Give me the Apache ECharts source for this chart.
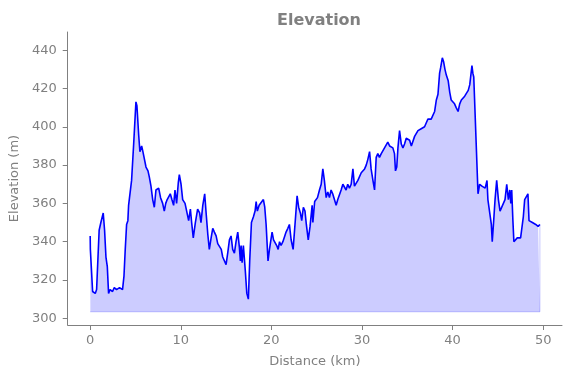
<!DOCTYPE html>
<html>
<head>
<meta charset="utf-8">
<script src="https://cdn.jsdelivr.net/npm/echarts@6/dist/echarts.min.js"></script>
<style>html,body{margin:0;padding:0;background:#fff;}#c{width:571px;height:378px;}</style>
</head>
<body>
<div id="c"></div>
<script>
const distance = [0.00,0.02,0.27,0.56,0.71,0.99,1.18,1.30,1.44,1.59,1.74,1.89,2.03,2.19,2.47,2.66,2.91,3.09,3.24,3.42,3.57,3.73,3.87,4.02,4.16,4.24,4.36,4.57,4.80,5.05,5.16,5.35,5.49,5.68,5.82,5.99,6.16,6.38,6.52,6.71,6.90,7.08,7.26,7.56,7.77,
8.00,8.18,8.34,8.50,8.65,8.84,9.02,9.21,9.36,9.54,9.73,9.84,10.03,10.21,10.47,10.66,10.87,11.06,11.20,11.38,11.61,11.86,12.08,12.23,12.43,12.64,12.78,12.98,13.15,13.35,13.53,13.71,13.90,14.08,14.26,14.47,14.63,14.82,15.00,15.18,15.37,15.55,15.73,15.92,16.10,16.29,
16.47,16.58,16.66,16.77,16.91,17.12,17.29,17.46,17.61,17.80,18.02,18.20,18.32,18.45,18.65,18.86,19.12,19.27,19.42,19.63,19.79,19.93,20.08,20.24,20.39,20.59,20.75,20.90,21.07,21.27,21.48,21.62,21.82,21.99,22.18,22.40,22.64,22.84,23.01,23.20,23.35,23.53,23.71,23.86,24.07,24.27,24.50,
24.58,24.78,24.93,25.09,25.31,25.50,25.68,25.85,26.05,26.23,26.41,26.59,26.77,26.96,27.15,27.33,27.52,27.70,27.89,28.07,28.25,28.43,28.62,28.81,29.00,29.17,29.37,29.55,29.73,29.92,30.09,30.29,30.47,30.65,30.84,31.01,31.21,31.39,31.57,31.75,31.93,32.13,32.31,32.49,32.67,
32.85,33.05,33.23,33.41,33.59,33.70,33.84,33.97,34.15,34.34,34.52,34.70,34.89,35.07,35.26,35.45,35.60,35.81,35.99,36.18,36.36,36.54,36.73,36.91,37.09,37.28,37.46,37.64,37.84,38.02,38.21,38.39,38.57,38.69,38.87,39.01,39.16,39.31,39.52,39.69,39.85,40.04,40.22,40.40,40.61,40.79,40.97,41.16,41.34,41.53,
41.73,41.90,42.14,42.24,42.34,42.81,42.99,43.24,43.41,43.60,43.80,43.90,44.08,44.28,44.38,44.54,44.69,44.87,45.06,45.24,45.42,45.61,45.79,45.98,46.16,46.32,46.43,46.53,46.66,46.77,46.94,47.14,47.33,47.51,47.69,47.81,47.96,48.16,48.32,48.44,48.62,48.81,48.98,49.18,49.33,49.44,49.54,49.64];
const elevation = [343,336,314,313,315,346,350,349,355,346,332,327,313,315,314,316,315,314,316,315,315,322,336,349,351,359,360,372,391,413,411,396,387,390,387,387,379,377,374,369,362,358,367,368,363,
360,356,360,362,361,365,362,359,367,360,371,375,370,362,360,359,351,357,350,342,350,357,355,350,359,365,356,344,336,342,347,345,343,339,339,336,332,332,328,334,341,343,336,334,340,345,
337,330,338,329,338,325,313,310,330,350,353,356,361,356,359,360,362,358,349,330,336,337,345,341,342,338,336,340,338,340,343,345,347,349,341,336,351,364,358,355,351,358,356,349,341,348,359,
350,361,362,363,367,370,378,372,363,366,363,367,365,362,359,362,361,367,370,371,367,370,368,370,378,369,370,372,373,376,377,378,380,383,387,378,372,367,384,386,384,386,386,389,390,
392,390,389,389,386,377,379,389,398,391,389,391,394,394,393,390,391,395,396,398,397,399,399,400,402,404,404,404,405,408,414,417,428,431,436,434,430,427,424,418,414,413,412,410,408,412,414,415,416,415,
419,422,432,428,426,365,370,369,370,368,372,362,361,349,340,351,362,372,362,356,356,360,362,370,362,367,360,367,351,340,341,342,341,342,341,353,362,363,365,351,351,350,349,349,350,348,347,349];
const baseElevation = 303.4;
const xTicks = [0,10,20,30,40,50];
const yTicks = [300,320,340,360,380,400,420,440];

const lineData = distance.map((d,i)=>[d, elevation[i]]);
const last = distance.length-1;
const edgeData = [[distance[0], baseElevation],[distance[last], baseElevation],[distance[last], elevation[last]]];

const gray = '#808080';
const font = 'DejaVu Sans';
const chart = echarts.init(document.getElementById('c'), null, {renderer:'canvas'});
chart.setOption({
  animation:false,
  backgroundColor:'#fff',
  title:{text:'Elevation', left:314, top:8, textAlign:'center',
    textStyle:{color:gray, fontFamily:font, fontWeight:'bold', fontSize:16}},
  grid:{left:67, right:9, top:32, bottom:53, containLabel:false},
  xAxis:{type:'value', min:-2.48, max:52.08,
    name:'Distance (km)', nameLocation:'middle', nameGap:30,
    nameTextStyle:{color:gray, fontFamily:font, fontSize:13},
    axisLine:{show:true, onZero:false, lineStyle:{color:gray, width:1}},
    axisTick:{show:true, length:5, lineStyle:{color:gray}, customValues:xTicks},
    axisLabel:{color:gray, fontFamily:font, fontSize:13, margin:9, customValues:xTicks},
    splitLine:{show:false}},
  yAxis:{type:'value', min:296.5, max:449.5,
    name:'Elevation (m)', nameLocation:'middle', nameGap:44, nameRotate:90,
    nameTextStyle:{color:gray, fontFamily:font, fontSize:13},
    axisLine:{show:true, onZero:false, lineStyle:{color:gray, width:1}},
    axisTick:{show:true, length:5, lineStyle:{color:gray}, customValues:yTicks},
    axisLabel:{color:gray, fontFamily:font, fontSize:13, margin:11, customValues:yTicks},
    splitLine:{show:false}},
  series:[
    {type:'line', data:edgeData, symbol:'none', silent:true,
      lineStyle:{color:'rgba(0,0,255,0.22)', width:1}},
    {type:'line', data:lineData, symbol:'none', silent:true,
      lineStyle:{color:'#0000ff', width:1.6},
      areaStyle:{color:'rgba(0,0,255,0.2)', origin:baseElevation, opacity:1}}
  ]
});
</script>
</body>
</html>
